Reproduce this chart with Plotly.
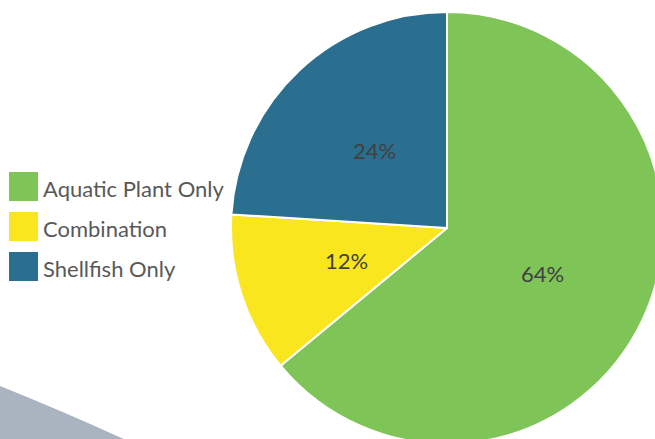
import math
import plotly.graph_objects as go

categories = ["Aquatic Plant Only", "Combination", "Shellfish Only"]
values = [64, 12, 24]
colors = ["#7fc457", "#f9e61f", "#2a6f8f"]

W, H = 700, 480
FONT = "Lato"
TEXT_GRAY = "#595959"
LABEL_GRAY = "#404040"

# pie geometry in page pixels
CX, CY, R = 447, 228, 216

fig = go.Figure()

fig.add_trace(go.Pie(
    labels=categories,
    values=values,
    sort=False,
    direction="clockwise",
    rotation=0,
    marker=dict(colors=colors, line=dict(color="white", width=2)),
    textinfo="none",
    showlegend=False,
    hoverinfo="label+percent",
    domain=dict(x=[(CX - R) / W, (CX + R) / W], y=[1 - (CY + R) / H, 1 - (CY - R) / H]),
))

fig.update_layout(
    xaxis=dict(range=[0, W], visible=False, domain=[0, 1], fixedrange=True),
    yaxis=dict(range=[H, 0], visible=False, domain=[0, 1], fixedrange=True),
)

shapes = []
shapes.append(dict(
    type="path", xref="x", yref="y", layer="below",
    path="M 0 386 Q 60 410 126 440 L 0 440 Z",
    fillcolor="#aab4c1", line=dict(width=0),
))

annotations = []

# percentage labels placed along each slice's mid-angle
total = sum(values)
cum = 0.0
for v in values:
    mid = (cum + v / 2) / total * 2 * math.pi
    cum += v
    rr = 0.49 * R
    annotations.append(dict(
        x=CX + rr * math.sin(mid), y=CY - rr * math.cos(mid),
        xref="x", yref="y", text=f"{round(v / total * 100)}%",
        showarrow=False, xanchor="center", yanchor="middle",
        font=dict(family=FONT, size=22, color=LABEL_GRAY),
    ))

# custom legend
legend_top = 172
for i, (cat, col) in enumerate(zip(categories, colors)):
    y0 = legend_top + i * 40
    shapes.append(dict(type="rect", xref="x", yref="y",
                       x0=9, x1=38, y0=y0, y1=y0 + 29,
                       fillcolor=col, line=dict(width=0)))
    annotations.append(dict(x=41, y=y0 + 16, xref="x", yref="y",
                            text=cat, showarrow=False, xanchor="left",
                            yanchor="middle",
                            font=dict(family=FONT, size=22, color=TEXT_GRAY)))

fig.update_layout(
    width=W, height=H,
    margin=dict(l=0, r=0, t=0, b=0),
    paper_bgcolor="white", plot_bgcolor="rgba(0,0,0,0)",
    shapes=shapes, annotations=annotations,
)

fig.write_html(
    "out.html",
    config={"displayModeBar": False},
    post_script="document.body.style.margin='0';document.body.style.overflow='hidden';document.documentElement.style.overflow='hidden';",
)
